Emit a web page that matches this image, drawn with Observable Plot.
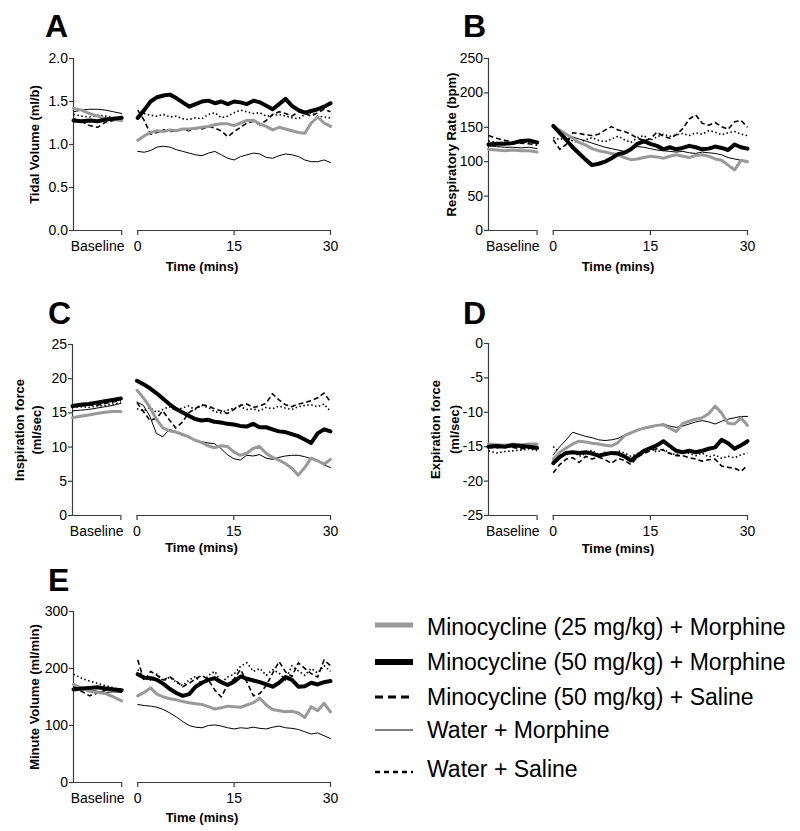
<!DOCTYPE html>
<html>
<head>
<meta charset="utf-8">
<script src="https://cdn.jsdelivr.net/npm/d3@7"></script>
<script src="https://cdn.jsdelivr.net/npm/@observablehq/plot@0.6"></script>
<style>
html,body{margin:0;padding:0;background:#fff;}
#fig{position:relative;width:800px;height:831px;font-family:"Liberation Sans",Arial,Helvetica,sans-serif;color:#000;overflow:hidden;background:#fff;}
.panel{position:absolute;}
.title{position:absolute;font-size:32px;font-weight:bold;line-height:32px;}
.legText{position:absolute;left:427px;font-size:23px;line-height:23px;white-space:nowrap;}
.legSample{position:absolute;left:375px;}
</style>
</head>
<body>
<div id="fig"></div>
<script>
// ---------- categories / labels ----------
const seriesKeys = ["m25", "m50m", "m50s", "wm", "ws"];
const seriesNames = [
  "Minocycline (25 mg/kg) + Morphine",
  "Minocycline (50 mg/kg) + Morphine",
  "Minocycline (50 mg/kg) + Saline",
  "Water + Morphine",
  "Water + Saline"
];
const timeMinutes = [0,1,2,3,4,5,6,7,8,9,10,11,12,13,14,15,16,17,18,19,20,21,22,23,24,25,26,27,28,29,30];
const xTickLabels = [0, 15, 30];
const baselineLabel = "Baseline";
const timeLabel = "Time (mins)";
const panelLetters = ["A", "B", "C", "D", "E"];
const yLabels = ["Tidal Volume (ml/b)", "Respiratory Rate (bpm)", "Inspiration force\n(ml/sec)", "Expiration force\n(ml/sec)", "Minute Volume (ml/min)"];
const tvTicks = [0, 0.5, 1, 1.5, 2];
const rrTicks = [0, 50, 100, 150, 200, 250];
const ifTicks = [0, 5, 10, 15, 20, 25];
const efTicks = [-25, -20, -15, -10, -5, 0];
const mvTicks = [0, 100, 200, 300];

// ---------- A: Tidal volume ----------
const tv_m25_base = [1.42, 1.40, 1.36, 1.33, 1.30, 1.29, 1.28];
const tv_m25_time = [1.05, 1.10, 1.14, 1.16, 1.15, 1.17, 1.16, 1.18, 1.18, 1.19, 1.20, 1.21, 1.23, 1.24, 1.24, 1.22, 1.25, 1.28, 1.28, 1.24, 1.21, 1.17, 1.20, 1.18, 1.16, 1.14, 1.13, 1.25, 1.32, 1.25, 1.21];
const tv_m50m_base = [1.28, 1.27, 1.28, 1.27, 1.29, 1.30, 1.31];
const tv_m50m_time = [1.31, 1.40, 1.50, 1.55, 1.57, 1.58, 1.54, 1.49, 1.44, 1.47, 1.50, 1.51, 1.48, 1.50, 1.47, 1.50, 1.49, 1.47, 1.51, 1.49, 1.45, 1.41, 1.47, 1.53, 1.45, 1.40, 1.37, 1.39, 1.41, 1.44, 1.48];
const tv_m50s_base = [1.30, 1.27, 1.22, 1.20, 1.26, 1.28, 1.29];
const tv_m50s_time = [1.40, 1.28, 1.12, 1.14, 1.17, 1.15, 1.16, 1.18, 1.16, 1.19, 1.18, 1.21, 1.19, 1.16, 1.09, 1.15, 1.20, 1.25, 1.27, 1.23, 1.28, 1.35, 1.38, 1.36, 1.33, 1.38, 1.36, 1.33, 1.37, 1.41, 1.38];
const tv_wm_base = [1.38, 1.40, 1.41, 1.41, 1.40, 1.38, 1.36];
const tv_wm_time = [0.92, 0.91, 0.93, 0.97, 0.98, 0.97, 0.94, 0.92, 0.90, 0.88, 0.87, 0.90, 0.92, 0.88, 0.84, 0.82, 0.86, 0.88, 0.90, 0.89, 0.85, 0.84, 0.87, 0.89, 0.88, 0.86, 0.82, 0.80, 0.80, 0.82, 0.79];
const tv_ws_base = [1.35, 1.33, 1.32, 1.34, 1.33, 1.31, 1.30];
const tv_ws_time = [1.30, 1.36, 1.34, 1.33, 1.35, 1.32, 1.33, 1.30, 1.29, 1.31, 1.30, 1.35, 1.37, 1.31, 1.33, 1.37, 1.40, 1.38, 1.36, 1.37, 1.33, 1.34, 1.35, 1.33, 1.31, 1.30, 1.35, 1.37, 1.33, 1.32, 1.31];

// ---------- B: Respiratory rate ----------
const rr_m25_base = [118, 117, 116, 117, 116, 116, 114];
const rr_m25_time = [151, 146, 140, 134, 128, 124, 119, 116, 114, 112, 110, 106, 103, 104, 106, 108, 107, 105, 108, 110, 108, 106, 109, 110, 108, 104, 102, 95, 88, 102, 100];
const rr_m50m_base = [125, 126, 126, 127, 130, 131, 128];
const rr_m50m_time = [152, 142, 132, 121, 112, 103, 95, 97, 100, 105, 111, 113, 118, 126, 130, 126, 123, 118, 121, 118, 120, 123, 121, 118, 119, 122, 120, 117, 125, 121, 119];
const rr_m50s_base = [138, 134, 131, 129, 127, 126, 124];
const rr_m50s_time = [132, 118, 125, 142, 141, 139, 138, 140, 146, 151, 146, 144, 140, 134, 131, 133, 143, 137, 134, 139, 148, 162, 168, 156, 153, 157, 151, 147, 158, 160, 150];
const rr_wm_base = [123, 122, 121, 121, 120, 121, 119];
const rr_wm_time = [150, 145, 140, 136, 133, 130, 127, 124, 121, 119, 117, 115, 118, 122, 121, 119, 117, 116, 115, 114, 115, 113, 112, 114, 113, 112, 110, 106, 104, 102, 100];
const rr_ws_base = [130, 128, 128, 127, 129, 128, 126];
const rr_ws_time = [135, 132, 136, 130, 128, 132, 135, 131, 129, 133, 137, 132, 128, 135, 138, 131, 136, 140, 137, 139, 141, 138, 142, 140, 145, 143, 139, 142, 144, 140, 138];

// ---------- C: Inspiration force ----------
const if_m25_base = [14.3, 14.5, 14.7, 14.9, 15.1, 15.2, 15.2];
const if_m25_time = [18.3, 17.2, 15.8, 14.1, 12.8, 12.4, 12.2, 11.9, 11.5, 11.0, 10.7, 10.2, 9.9, 10.2, 10.1, 9.3, 8.8, 9.1, 9.8, 10.1, 9.1, 8.5, 8.1, 7.6, 6.9, 5.9, 7.0, 8.4, 8.0, 7.5, 8.2];
const if_m50m_base = [16.0, 16.2, 16.3, 16.5, 16.7, 16.9, 17.1];
const if_m50m_time = [19.7, 19.2, 18.6, 17.9, 17.1, 16.3, 15.6, 15.1, 14.6, 14.1, 13.9, 14.0, 13.7, 13.6, 13.4, 13.3, 13.1, 13.0, 13.4, 12.9, 12.9, 12.6, 12.3, 12.2, 11.9, 11.6, 11.1, 10.6, 12.0, 12.6, 12.3];
const if_m50s_base = [15.9, 16.0, 16.2, 16.1, 16.4, 16.6, 16.8];
const if_m50s_time = [16.5, 15.2, 13.9, 14.2, 15.3, 14.0, 12.8, 13.6, 15.0, 15.6, 16.2, 16.0, 15.6, 15.3, 14.9, 15.5, 16.1, 16.3, 15.8, 16.0, 16.4, 17.8, 16.9, 16.2, 15.9, 16.3, 16.5, 16.8, 17.2, 17.9, 16.6];
const if_wm_base = [15.3, 15.4, 15.5, 15.7, 15.9, 16.1, 16.4];
const if_wm_time = [16.6, 16.1, 14.5, 12.0, 11.5, 12.6, 12.3, 11.7, 11.6, 11.0, 10.8, 10.6, 10.5, 9.8, 8.9, 8.3, 8.1, 8.8, 8.7, 8.9, 8.4, 8.2, 8.5, 8.7, 8.8, 8.8, 8.6, 8.3, 8.1, 7.4, 7.0];
const if_ws_base = [15.8, 15.9, 15.8, 16.0, 16.1, 16.3, 16.5];
const if_ws_time = [15.6, 15.3, 15.8, 15.1, 15.5, 15.9, 15.4, 15.7, 16.0, 15.5, 16.1, 15.8, 15.2, 15.0, 15.4, 15.7, 15.9, 15.5, 15.6, 15.3, 15.8, 15.6, 16.0, 15.7, 15.5, 15.9, 16.1, 16.2, 15.9, 16.3, 15.2];

// ---------- D: Expiration force ----------
const ef_m25_base = [-14.6, -14.7, -14.8, -14.6, -14.7, -14.6, -14.6];
const ef_m25_time = [-16.8, -15.8, -15.2, -14.6, -14.2, -14.3, -14.5, -14.6, -14.8, -14.9, -14.4, -13.4, -13.0, -12.6, -12.3, -12.1, -11.9, -11.8, -12.3, -12.8, -11.6, -11.3, -11.0, -10.8, -10.2, -9.1, -10.1, -11.6, -11.7, -10.8, -11.9];
const ef_m50m_base = [-15.0, -14.9, -15.0, -14.8, -14.9, -15.0, -15.2];
const ef_m50m_time = [-17.4, -16.5, -15.9, -15.8, -15.9, -15.8, -16.0, -16.3, -16.1, -15.9, -16.0, -16.4, -17.0, -16.3, -15.6, -15.2, -14.8, -14.2, -14.9, -15.6, -15.8, -15.6, -15.8, -15.6, -15.3, -15.1, -14.0, -14.5, -15.3, -14.8, -14.2];
const ef_m50s_base = [-15.1, -15.2, -15.0, -15.1, -15.3, -15.2, -15.4];
const ef_m50s_time = [-18.8, -17.6, -16.8, -16.6, -17.3, -16.4, -16.8, -16.5, -16.9, -17.4, -16.7, -17.0, -17.6, -16.5, -16.0, -15.6, -15.3, -15.5, -16.0, -16.3, -16.3, -16.6, -16.8, -17.1, -16.9, -16.8, -17.8, -18.0, -18.1, -18.6, -17.7];
const ef_wm_base = [-14.8, -14.9, -14.8, -14.9, -15.0, -14.9, -14.9];
const ef_wm_time = [-16.2, -15.0, -14.0, -12.9, -13.2, -13.5, -13.7, -14.0, -14.1, -14.0, -13.8, -13.3, -12.9, -12.6, -12.4, -12.2, -11.9, -11.7, -12.0, -12.2, -12.0, -11.7, -11.4, -11.2, -11.4, -11.7, -11.3, -11.0, -10.8, -10.6, -10.6];
const ef_ws_base = [-15.6, -15.9, -15.7, -15.6, -15.5, -15.3, -15.6];
const ef_ws_time = [-15.0, -15.8, -16.2, -15.6, -16.4, -16.0, -15.5, -16.2, -15.8, -16.1, -15.6, -15.9, -16.4, -16.0, -15.5, -15.2, -15.8, -15.4, -15.9, -16.2, -15.7, -16.0, -16.3, -15.9, -16.5, -16.2, -16.7, -16.4, -16.6, -16.2, -15.9];

// ---------- E: Minute volume ----------
const mv_m25_base = [172, 165, 160, 158, 156, 150, 143];
const mv_m25_time = [152, 158, 166, 155, 150, 147, 145, 142, 140, 138, 137, 133, 129, 131, 134, 133, 132, 136, 140, 148, 136, 128, 126, 124, 125, 122, 114, 133, 126, 139, 124];
const mv_m50m_base = [163, 165, 166, 167, 165, 163, 162];
const mv_m50m_time = [190, 184, 183, 180, 173, 164, 157, 152, 155, 168, 175, 180, 183, 176, 171, 177, 186, 182, 179, 176, 172, 168, 175, 185, 180, 168, 169, 175, 172, 176, 178];
const mv_m50s_base = [168, 160, 152, 157, 162, 165, 163];
const mv_m50s_time = [215, 178, 195, 188, 180, 185, 178, 168, 174, 182, 188, 180, 162, 150, 172, 182, 198, 176, 152, 156, 170, 192, 212, 194, 186, 210, 200, 191, 185, 215, 205];
const mv_wm_base = [170, 166, 163, 160, 158, 159, 158];
const mv_wm_time = [137, 135, 134, 132, 128, 122, 115, 107, 100, 97, 96, 100, 101, 99, 96, 94, 96, 95, 97, 95, 94, 97, 99, 96, 95, 93, 89, 85, 87, 82, 77];
const mv_ws_base = [190, 183, 178, 174, 170, 166, 163];
const mv_ws_time = [198, 185, 180, 190, 178, 185, 176, 170, 180, 186, 172, 188, 195, 175, 185, 190, 204, 210, 195, 200, 188, 198, 192, 180, 205, 196, 188, 200, 192, 205, 195];

// ---------- styles & layout ----------
const FONT = '"Liberation Sans", Arial, Helvetica, sans-serif';
const AX = "#3c3c3c";
const X_BASE = [-10, -2.5];   // baseline segment on the shared x scale
const X_TIME = [0, 30];
const X_DOMAIN = [X_BASE[0], X_TIME[1]];

const seriesStyle = {
  m25:  {stroke: "#999999", width: 3,   dash: undefined, legWidth: 5,   legDash: undefined},
  m50m: {stroke: "#000000", width: 4,   dash: undefined, legWidth: 6,   legDash: undefined},
  m50s: {stroke: "#000000", width: 1.6, dash: "5,3",     legWidth: 3,   legDash: "8,5"},
  wm:   {stroke: "#000000", width: 1,   dash: undefined, legWidth: 1.2, legDash: undefined},
  ws:   {stroke: "#000000", width: 1.6, dash: "1.5,2.5", legWidth: 2.5, legDash: "5,4"}
};
const drawOrder = ["ws", "m50s", "wm", "m25", "m50m"];

const panels = [
  {left: 0, top: 0, height: 280, ml: 73, mr: 70, mt: 58, mb: 50, yDomain: [0, 2], yTicks: tvTicks, fmt: d3.format(".1f"), labelDx: -40, timeDy: 36.5, lh: 1.3, titleLeft: 45, titleTop: 10,
   data: {m25: [tv_m25_base, tv_m25_time], m50m: [tv_m50m_base, tv_m50m_time], m50s: [tv_m50s_base, tv_m50s_time], wm: [tv_wm_base, tv_wm_time], ws: [tv_ws_base, tv_ws_time]}},
  {left: 400, top: 0, height: 280, ml: 88, mr: 53, mt: 58, mb: 50, yDomain: [0, 250], yTicks: rrTicks, fmt: d => String(d), labelDx: -38, timeDy: 36.5, lh: 1.3, titleLeft: 463, titleTop: 10,
   data: {m25: [rr_m25_base, rr_m25_time], m50m: [rr_m50m_base, rr_m50m_time], m50s: [rr_m50s_base, rr_m50s_time], wm: [rr_wm_base, rr_wm_time], ws: [rr_ws_base, rr_ws_time]}},
  {left: 0, top: 290, height: 270, ml: 72, mr: 70, mt: 54, mb: 45, yDomain: [0, 25], yTicks: ifTicks, fmt: d => String(d), labelDx: -45.5, timeDy: 32, lh: 1.3, titleLeft: 48, titleTop: 297,
   data: {m25: [if_m25_base, if_m25_time], m50m: [if_m50m_base, if_m50m_time], m50s: [if_m50s_base, if_m50s_time], wm: [if_wm_base, if_wm_time], ws: [if_ws_base, if_ws_time]}},
  {left: 400, top: 290, height: 270, ml: 88, mr: 53, mt: 53, mb: 45, yDomain: [-25, 0], yTicks: efTicks, fmt: d => String(d), labelDx: -45, timeDy: 33.5, lh: 1.42, titleLeft: 463, titleTop: 297,
   data: {m25: [ef_m25_base, ef_m25_time], m50m: [ef_m50m_base, ef_m50m_time], m50s: [ef_m50s_base, ef_m50s_time], wm: [ef_wm_base, ef_wm_time], ws: [ef_ws_base, ef_ws_time]}},
  {left: 0, top: 560, height: 271, ml: 73, mr: 70, mt: 51, mb: 49, yDomain: [0, 300], yTicks: mvTicks, fmt: d => String(d), labelDx: -40, timeDy: 35.5, lh: 1.3, titleLeft: 48, titleTop: 564,
   data: {m25: [mv_m25_base, mv_m25_time], m50m: [mv_m50m_base, mv_m50m_time], m50s: [mv_m50s_base, mv_m50s_time], wm: [mv_wm_base, mv_wm_time], ws: [mv_ws_base, mv_ws_time]}}
];

function makePanel(p, label) {
  const rows = [];
  for (const k of seriesKeys) {
    const [base, time] = p.data[k];
    const bx = d3.scaleLinear().domain([0, base.length - 1]).range(X_BASE);
    base.forEach((v, i) => rows.push({s: k, seg: "base", x: bx(i), y: v}));
    time.forEach((v, i) => rows.push({s: k, seg: "time", x: timeMinutes[i], y: v}));
  }
  const [lo, hi] = p.yDomain;
  const yTickRows = p.yTicks.map(v => ({y: v, x: X_BASE[0]}));
  const xTickRows = [X_BASE[1], ...xTickLabels].map(v => ({x: v, y: lo}));
  const marks = [
    // axis lines
    Plot.ruleX([{x: X_BASE[0], y1: lo, y2: hi}], {x: "x", y1: "y1", y2: "y2", stroke: AX, strokeWidth: 1.2}),
    Plot.ruleY([{y: lo, x1: X_BASE[0], x2: X_BASE[1]}, {y: lo, x1: X_TIME[0], x2: X_TIME[1]}], {y: "y", x1: "x1", x2: "x2", stroke: AX, strokeWidth: 1.2}),
    // y ticks + labels
    Plot.ruleY(yTickRows, {y: "y", x1: "x", x2: "x", insetLeft: -4, stroke: AX, strokeWidth: 1.2}),
    Plot.text(p.yTicks, {y: d => d, text: p.fmt, frameAnchor: "left", textAnchor: "end", lineAnchor: "middle", dx: -5.5, fontSize: 14, fill: "#000"}),
    // x ticks + labels
    Plot.ruleX(xTickRows, {x: "x", y1: "y", y2: "y", insetBottom: -5, stroke: AX, strokeWidth: 1.2}),
    Plot.text(xTickLabels, {x: d => d, text: d => String(d), frameAnchor: "bottom", lineAnchor: "top", dy: 11, fontSize: 14, fill: "#000"}),
    Plot.text([{x: (X_BASE[0] + X_BASE[1]) / 2, t: baselineLabel}], {x: "x", text: "t", frameAnchor: "bottom", lineAnchor: "top", dy: 11, fontSize: 14, fill: "#000"}),
    Plot.text([timeLabel], {frameAnchor: "bottom", textAnchor: "middle", lineAnchor: "middle", dy: p.timeDy, fontSize: 13, fontWeight: "bold", fill: "#000"}),
    Plot.text([label], {frameAnchor: "left", rotate: -90, textAnchor: "middle", lineAnchor: "middle", dx: p.labelDx, fontSize: 13, fontWeight: "bold", lineHeight: p.lh, fill: "#000"})
  ];
  for (const k of drawOrder) {
    const st = seriesStyle[k];
    marks.push(Plot.line(rows.filter(r => r.s === k), {
      x: "x", y: "y", z: "seg",
      stroke: st.stroke, strokeWidth: st.width, strokeDasharray: st.dash,
      strokeLinecap: st.dash ? "butt" : "round", strokeLinejoin: "round"
    }));
  }
  return Plot.plot({
    width: 400, height: p.height,
    marginLeft: p.ml, marginRight: p.mr, marginTop: p.mt, marginBottom: p.mb,
    x: {type: "linear", domain: X_DOMAIN, axis: null},
    y: {type: "linear", domain: p.yDomain, axis: null},
    style: {fontFamily: FONT, background: "transparent", overflow: "visible", color: "#000"},
    marks
  });
}

const fig = document.getElementById("fig");
panels.forEach((p, i) => {
  const svg = makePanel(p, yLabels[i]);
  svg.classList.add("panel");
  svg.style.left = p.left + "px";
  svg.style.top = p.top + "px";
  svg.style.position = "absolute";
  fig.appendChild(svg);
  const t = document.createElement("div");
  t.className = "title";
  t.textContent = panelLetters[i];
  t.style.left = p.titleLeft + "px";
  t.style.top = p.titleTop + "px";
  fig.appendChild(t);
});

// ---------- legend ----------
const legendTextTops = [615.5, 650.5, 685.5, 718.5, 757.5];
const legendLineYs = [625, 662, 697, 730, 772];
seriesKeys.forEach((k, i) => {
  const st = seriesStyle[k];
  const s = d3.create("svg").attr("class", "legSample").attr("width", 38).attr("height", 10)
    .style("top", (legendLineYs[i] - 5) + "px");
  s.append("line").attr("x1", 0).attr("x2", 38).attr("y1", 5).attr("y2", 5)
    .attr("stroke", st.stroke).attr("stroke-width", st.legWidth)
    .attr("stroke-dasharray", st.legDash || null);
  fig.appendChild(s.node());
  const t = document.createElement("div");
  t.className = "legText";
  t.style.top = legendTextTops[i] + "px";
  t.textContent = seriesNames[i];
  fig.appendChild(t);
});
</script>
</body>
</html>
